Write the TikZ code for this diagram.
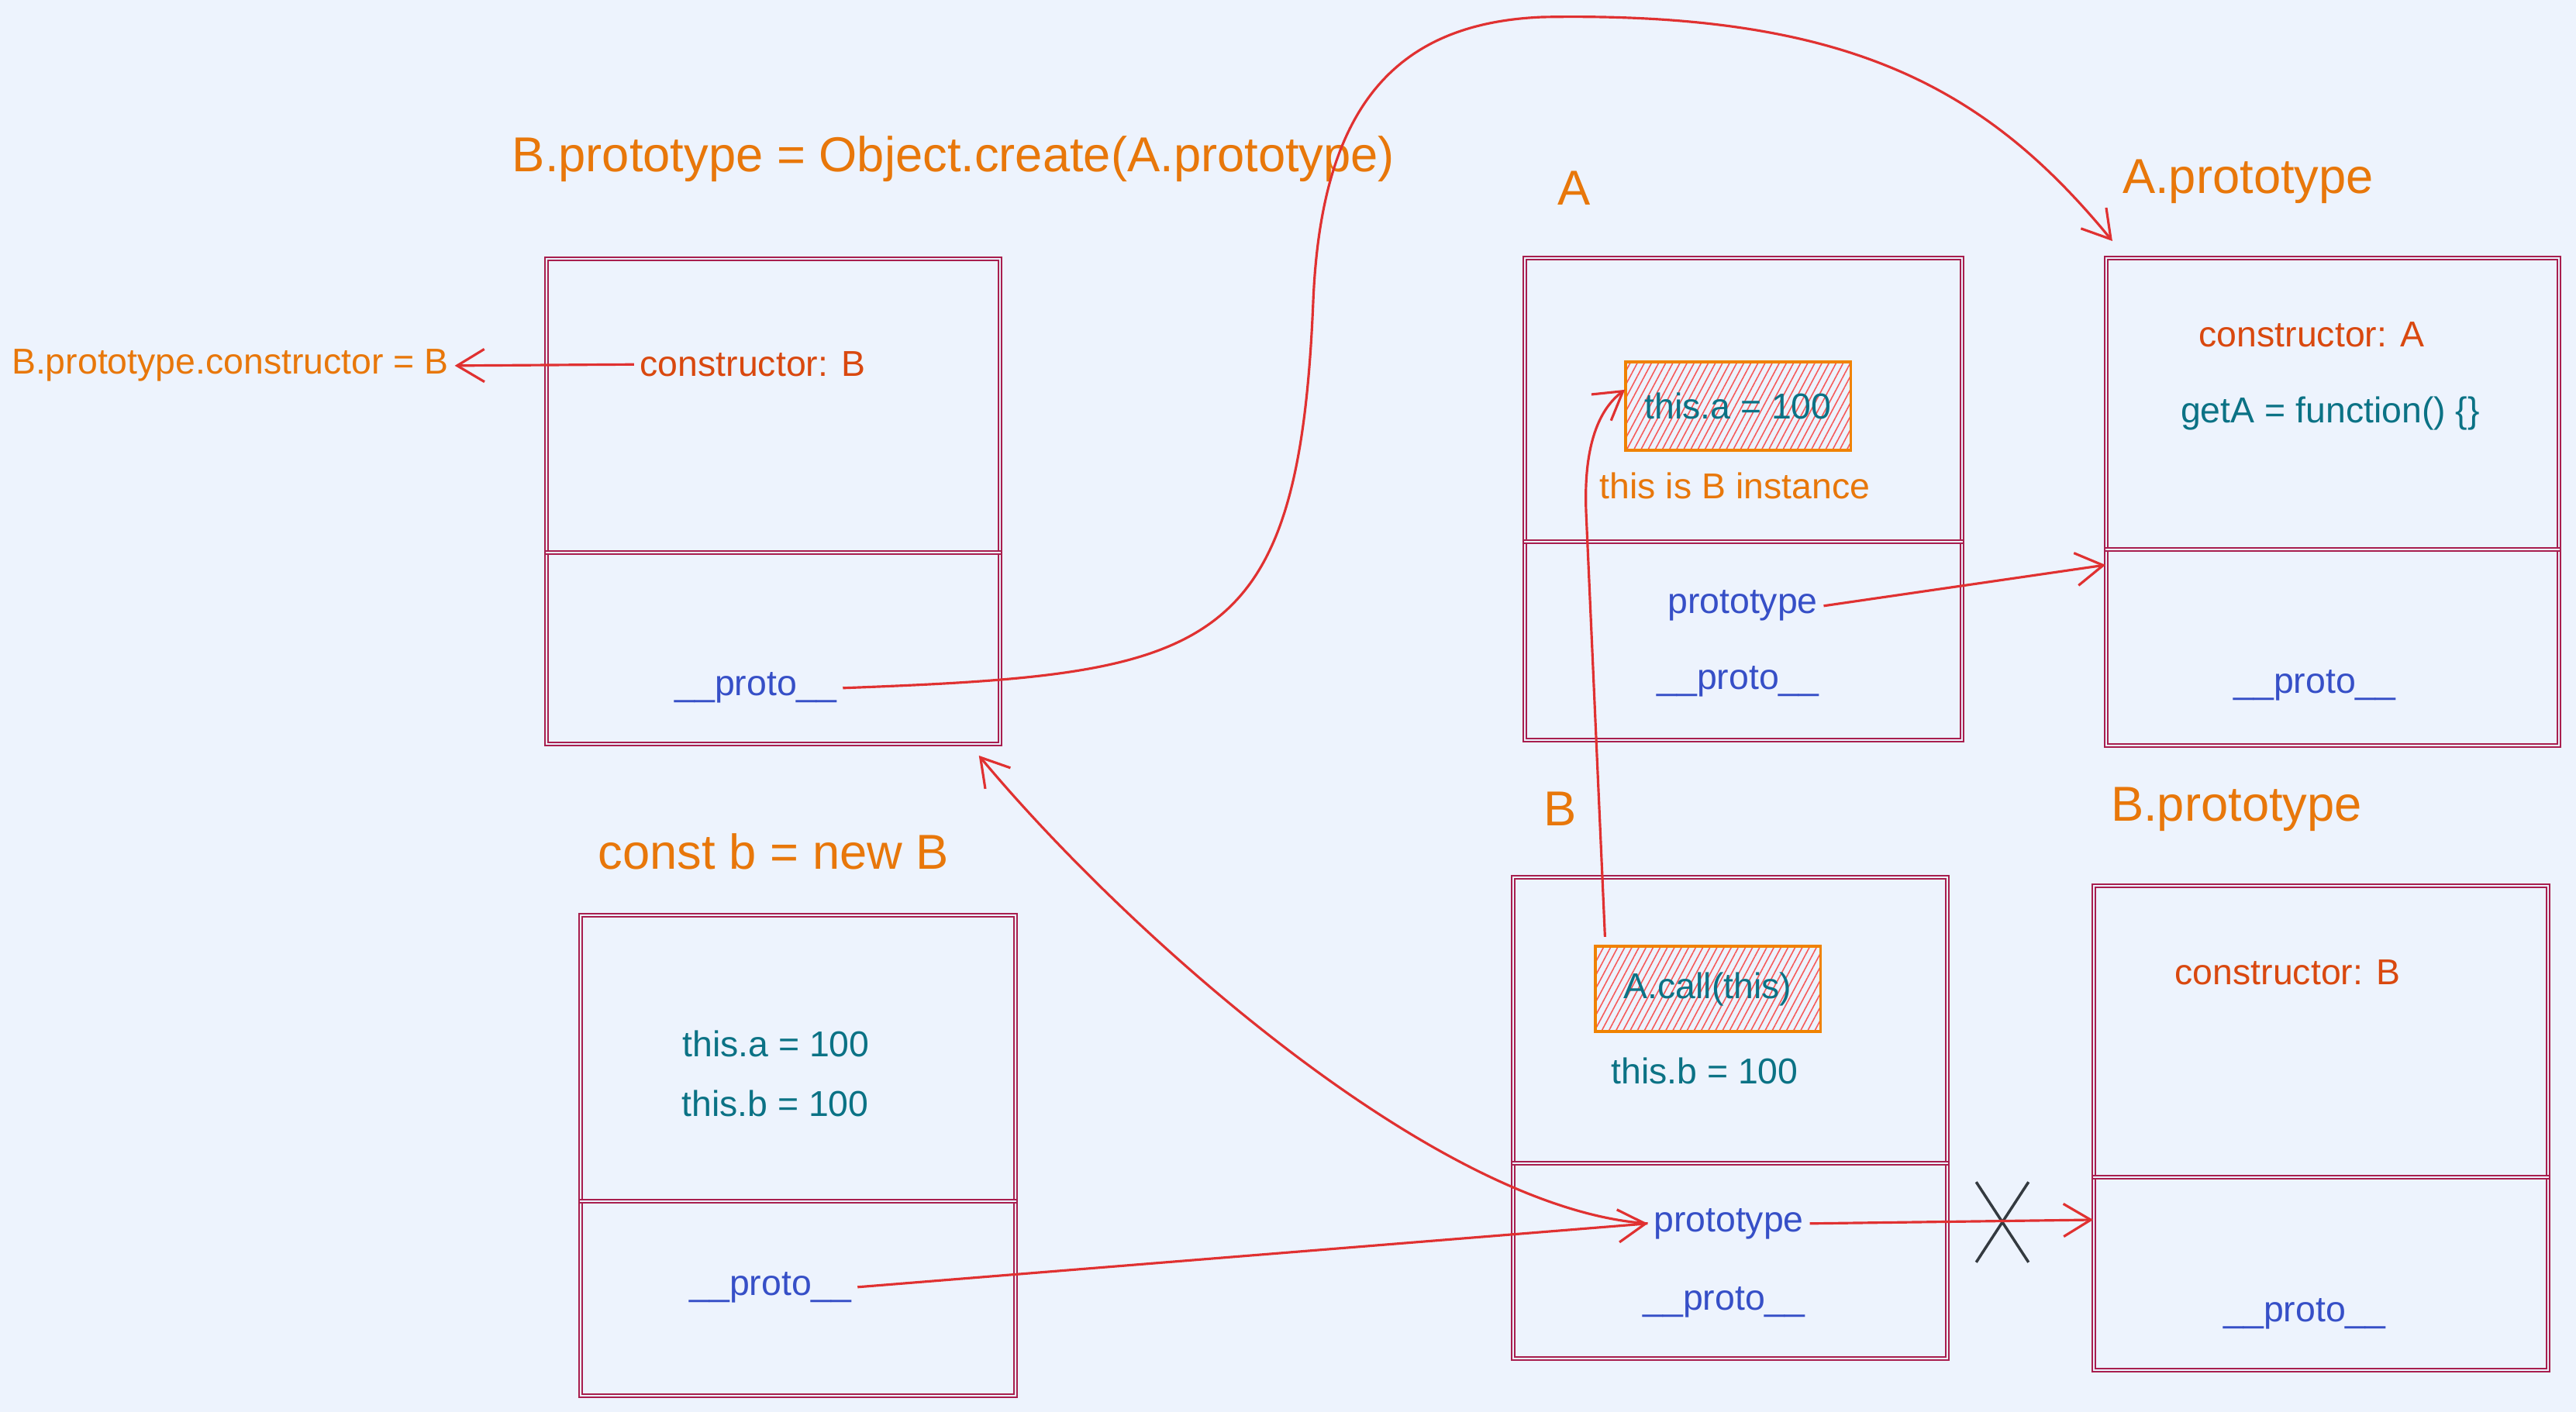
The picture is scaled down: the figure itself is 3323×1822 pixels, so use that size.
\documentclass[tikz,border=0pt]{standalone}
\usepackage{fontspec}
\setmainfont{Liberation Sans}
\usepackage{tikz}
\usetikzlibrary{positioning,fit,arrows.meta,patterns.meta,shapes.misc}
\definecolor{bgc}{RGB}{237,243,253}
\definecolor{boxc}{RGB}{168,30,78}
\definecolor{arrc}{RGB}{224,49,49}
\definecolor{ttlc}{RGB}{232,119,10}
\definecolor{ctorc}{RGB}{217,72,15}
\definecolor{valc}{RGB}{11,114,133}
\definecolor{ptrc}{RGB}{54,79,199}
\definecolor{hatchc}{RGB}{246,90,90}
\definecolor{hbordc}{RGB}{240,130,0}
\definecolor{xc}{RGB}{52,58,64}
\tikzstyle{hatch} = [rectangle, draw=hbordc, line width=0.9pt, inner sep=0pt, pattern={Lines[angle=62,distance=2.3pt,line width=0.45pt]}, pattern color=hatchc]
\tikzstyle{l} = [draw=arrc, line width=0.9pt, -{Straight Barb[length=10pt,width=12pt]}]
\tikzset{
 div/.style
  = {draw=boxc, double=bgc, double distance=0.8pt, line width=0.5pt},
 obj/.style
  = {div, rectangle, inner sep=0pt},
 fs/.style
  = {font=\fontsize{13.2}{16}\selectfont},
 ttl/.style
  = {text=ttlc, font=\fontsize{18}{22}\selectfont, anchor=base, inner sep=1pt},
 txt/.style
  = {fs, anchor=base, inner sep=2pt},
 ctor/.style = {txt, text=ctorc},
 val/.style = {txt, text=valc},
 ptr/.style = {txt, text=ptrc},
 nope/.style
  = {cross out, draw=xc, line width=1pt, minimum width=0.64cm, minimum height=1cm, inner sep=0pt},
}
\begin{document}
\begin{tikzpicture}[auto, x=0.01cm, y=-0.01cm]
    \path[use as bounding box, fill=bgc] (0,0) rectangle (3323,1822);

    \node [obj, fit={(705,334) (1290,960)}] (bp) {};
    \node [obj, fit={(1967,333) (2531,955)}] (boxa) {};
    \node [obj, fit={(2717,333) (3301,962)}] (ap) {};
    \node [obj, fit={(749,1181) (1310,1801)}] (cb) {};
    \node [obj, fit={(1952,1132) (2512,1753)}] (boxb) {};
    \node [obj, fit={(2701,1143) (3287,1768)}] (bpp) {};
    \path [div] (bp.west |- 0,713) -- (bp.east |- 0,713);
    \path [div] (boxa.west |- 0,699) -- (boxa.east |- 0,699);
    \path [div] (ap.west |- 0,709) -- (ap.east |- 0,709);
    \path [div] (cb.west |- 0,1550) -- (cb.east |- 0,1550);
    \path [div] (boxb.west |- 0,1501) -- (boxb.east |- 0,1501);
    \path [div] (bpp.west |- 0,1519) -- (bpp.east |- 0,1519);

    \node [ttl] (tmain) at (1230,222) {B.prototype = Object.create(A.prototype)};
    \node [ttl] (ta) at (2031,265) {A};
    \node [ttl] (tap) at (2900,250) {A.prototype};
    \node [ttl] (tcb) at (998,1121) {const b = new B};
    \node [ttl] (tb) at (2013,1066) {B};
    \node [ttl] (tbp) at (2885,1060) {B.prototype};

    \node [txt, text=ttlc] (lbl) at (297,483) {B.prototype.constructor = B};
    \node [ctor] (bpctor) at (971,486) {constructor: B};
    \node [ptr] (bpproto) at (975,898) {\_\_proto\_\_};

    \node [hatch, fs, text=valc, minimum width=2.9cm, minimum height=1.14cm] (thisa) at (2242,524) {this.a = 100};
    \node [txt, text=ttlc] (inst) at (2238,644) {this is B instance};
    \node [ptr] (aprot) at (2248,792) {prototype};
    \node [ptr] (aproto) at (2242,890) {\_\_proto\_\_};

    \node [ctor] (apctor) at (2982,448) {constructor: A};
    \node [val] (geta) at (3006,546) {getA = function() \{\}};
    \node [ptr] (approto) at (2986,895) {\_\_proto\_\_};

    \node [val] (cba) at (1001,1363) {this.a = 100};
    \node [val] (cbb) at (1000,1440) {this.b = 100};
    \node [ptr] (cbproto) at (994,1671) {\_\_proto\_\_};

    \node [hatch, fs, text=valc, minimum width=2.9cm, minimum height=1.1cm] (acall) at (2203,1276) {A.call(this)};
    \node [val] (bthisb) at (2199,1398) {this.b = 100};
    \node [ptr] (bprot) at (2230,1589) {prototype};
    \node [ptr] (bproto) at (2224,1690) {\_\_proto\_\_};

    \node [ctor] (bppctor) at (2951,1270) {constructor: B};
    \node [ptr] (bppproto) at (2973,1705) {\_\_proto\_\_};

    \node [nope] (x1) at (2583,1577) {};

    \path [l] (bpctor.west) -- (lbl.east);
    \path [l] (bpproto.east) .. controls (1560,870) and (1675,850) .. (1694,389) .. controls (1704,150) and (1790,30) .. (1990,22) .. controls (2380,15) and (2560,110) .. ([xshift=2.5pt,yshift=6pt]ap.north west);
    \path [l] (aprot.east) -- (ap.west |- 0,729);
    \path [l] ([xshift=4pt,yshift=3pt]acall.north west) -- (2046,660) .. controls (2043,580) and (2060,530) .. ([yshift=6pt]thisa.west);
    \path [l] (cbproto.east) -- (bprot.west);
    \path [l] (bprot.west) .. controls (1850,1560) and (1450,1200) .. ([xshift=-8pt,yshift=-4pt]bp.south east);
    \path [l] (bprot.east) -- (bpp.west |- 0,1574);
  \end{tikzpicture}
\end{document}
